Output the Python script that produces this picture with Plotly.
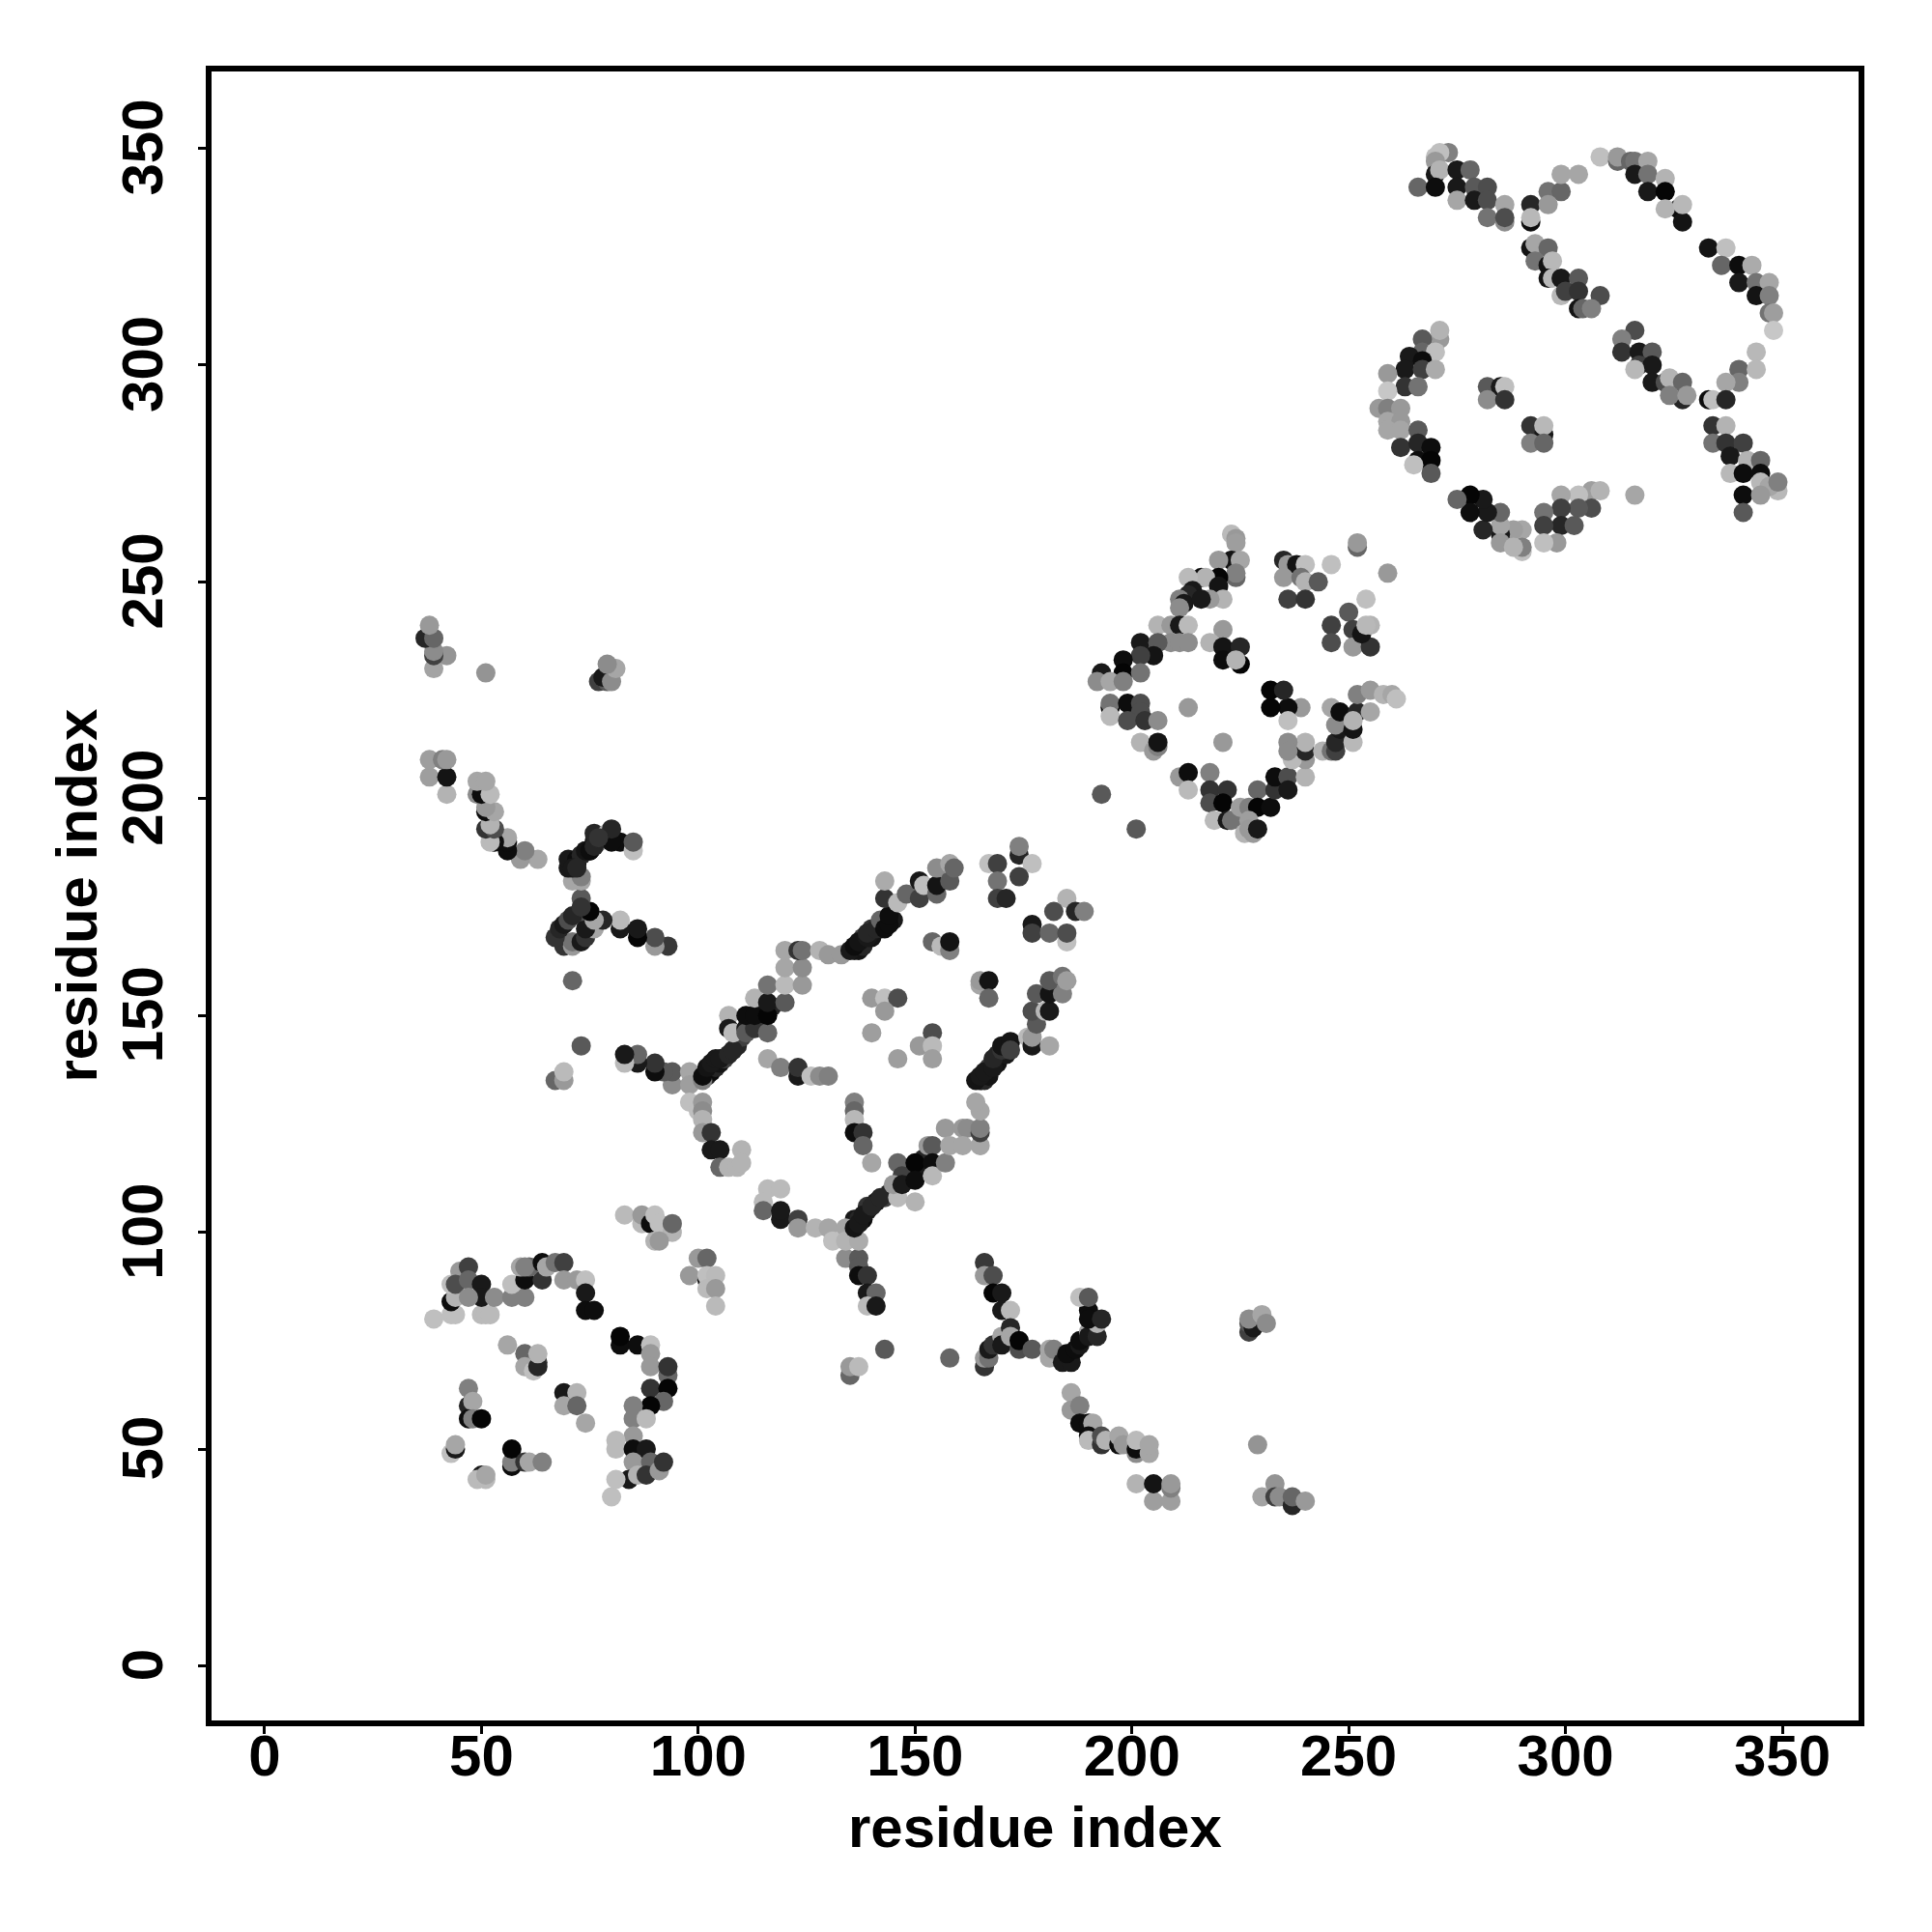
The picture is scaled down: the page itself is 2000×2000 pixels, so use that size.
import plotly.graph_objects as go

# each entry: residue i, residue j, contact score (0 = white ... 100 = black)
domain1_arc = [(39,80,25),(43,81,25),(44,81,25),(50,81,27),(51,81,27),(52,81,27),(43,84,95),(44,85,30),(45,91,40),(47,92,75),
(43,88,25),(44,88,70),(47,89,60),(50,88,90),(50,85,90),(47,85,45),(53,85,45),(57,85,50),(60,85,50),(57,88,25),(60,89,95),(64,89,80),
(59,92,35),(61,92,60),(60,92,50),(64,93,95),(65,92,35),(67,93,55),(69,93,75),(69,89,40),(72,89,40),(74,89,25),(74,86,90),(74,82,95),(76,82,95),
(56,74,35),(60,72,60),(63,70,75),(60,69,35),(62,68,25),(63,69,85),(63,72,30),(69,63,90),(72,63,30),(69,60,35),(72,60,60),(74,56,35),
(47,64,50),(47,60,85),(48,61,35),(47,57,95),(48,57,50),(50,57,98),(43,49,25),(44,50,90),(44,51,35),(57,46,95),(57,47,50),(57,50,98),(60,47,80),(61,47,35),(64,47,50),
(50,44,90),(49,43,27),(51,43,27),(51,44,35)]
domain1_right = [(82,74,95),(82,76,98),(86,74,95),(89,74,25),(89,72,40),(89,69,40),(93,67,60),(93,69,80),(89,64,80),(93,64,98),(92,61,60),(89,60,98),(85,60,50),(85,57,50),(88,57,27),
(85,53,40),(81,52,27),(81,50,27),(85,50,95),(88,50,90),(85,47,40),(89,47,60),(84,43,90),(81,43,25),(80,39,25),(86,44,30),(88,44,80),(91,45,40),(92,47,80)]
domain1_link = [(83,104,27),(87,102,27),(87,104,40),(89,102,95),(90,104,25),(91,102,25),(94,100,30),(94,102,60),(90,98,30),(91,98,40),
(98,90,40),(100,94,40),(102,94,60),(102,89,90),(102,90,25),(104,90,27),(102,87,27),(104,87,40),(104,83,27)]
# cross-domain contacts, read once and drawn on both sides of the diagonal
inter_contacts = [(143,73,65),(135,67,60),(135,69,40),(137,69,27),(158,71,60),(134,94,45),(137,94,65),(137,92,65),(137,90,95),(139,90,80),(139,86,90),(141,86,60),(139,83,27),(141,83,90),
(166,93,78),(166,90,40),(168,90,70),(168,86,98),(170,86,90),(170,82,90),(172,82,27),
(166,69,80),(166,71,40),(167,71,55),(167,73,90),(168,74,80),(170,76,35),(170,74,90),(172,78,85),(172,76,35),(174,73,70),(174,75,98),(177,73,65),
(181,71,35),(181,73,35),(182,73,50),(184,70,90),(186,70,90),(185,72,95),(187,73,95),(188,74,90),(188,75,95),(190,77,35),(190,76,90),(192,76,85),(192,79,30),(190,82,95),(190,80,95),(193,80,85),(188,85,25),(190,85,65),
(186,63,35),(186,59,40),(188,60,50),(188,56,95),(190,56,95),(191,56,35),(190,53,95),(190,52,27),(193,51,80),(193,53,70),(194,52,30),(197,51,95),(197,53,35),(198,51,40),(201,49,45),(201,50,95),(201,52,27),(204,49,35),(204,51,35),
(201,42,30),(205,38,38),(205,42,92),(209,38,38),(209,41,50),(209,42,40),
(227,77,75),(227,79,65),(228,78,90),(227,80,45),(230,81,35),(231,79,45),(229,51,42),
(230,39,36),(233,42,42),(233,39,75),(234,39,45),(237,37,85),(237,39,60),(240,38,40)]
domain2_top = [(174,187,85),(174,189,50),(177,185,25),(167,185,25),(169,185,75),(169,181,55),(174,182,75),(169,177,75),(171,177,85),
(185,177,30),(182,174,70),(187,174,85),(189,174,50),(177,171,90),(177,169,75),(181,169,60),(185,167,25),(185,169,70),
(154,167,60),(156,166,27),(158,165,50),(158,167,92),(165,157,35),(165,158,40),(167,158,92),(167,154,60),
(140,154,40),(143,154,25),(146,154,70),(143,151,40),(140,146,38),(154,146,70),(151,143,40),(154,143,27),(154,140,38),(146,140,38),
(116,140,35),(119,138,50),(123,136,90),(123,138,80),(126,136,25),(128,136,45),(130,136,50),
(136,130,50),(136,128,60),(136,126,28),(136,123,95),(138,123,80),(138,120,60),(140,116,35)]
chain_upper = [(98,137,35),(98,134,38),(98,130,25),(100,128,25),(101,135,50),(101,136,95),(102,138,92),(103,139,90),(104,140,90),(105,140,90),(107,141,85),(108,142,85),
(107,150,30),(107,147,90),(108,146,27),(111,147,90),(111,146,65),(113,147,80),(116,146,60),(111,150,95),(113,150,95),(116,150,98),(113,154,30),(116,153,90),(116,157,55),(120,153,65),(120,157,27),(124,157,40),
(120,161,35),(124,161,45),(120,165,35),(123,165,80),(124,165,55),(128,165,30),(130,164,40),(133,164,40),
(135,165,90),(136,166,95),(137,167,92),(139,168,90),(139,169,85),(141,170,85),(142,172,60),(143,170,95),(144,171,95),(144,173,95),
(143,177,80),(143,181,33),(146,176,27),(148,178,60),(151,177,75),(151,181,90),(152,180,25),(155,178,60),(155,180,92),(155,184,45),(158,181,65),(158,185,35),(159,184,60)]
chain_lower = [(116,110,27),(119,110,27),(115,107,27),(115,105,60),(119,103,90),(119,105,90),(123,103,75),(123,101,40),(127,101,30),(130,101,35),(134,101,35),(131,98,25),(134,98,30),(137,98,33),
(136,101,92),(137,102,90),(138,104,90),(140,106,85),(142,108,85),(146,108,27),(150,107,30),(146,116,60),(147,113,75),(145,111,40),(147,111,90),(150,116,98),(150,112,95),
(153,120,40),(154,120,65),(154,116,95),(154,113,28),(157,116,50),(157,124,40),(158,120,35),(161,124,40),(162,124,45),(161,120,35),(165,120,35),(165,123,75),(165,124,50),(165,128,35),(164,130,35),
(164,135,92),(165,136,90),(166,137,90),(168,138,90),(168,140,85),(170,142,80),(170,143,92),(172,144,92),(172,142,75),
(176,145,27),(177,143,90),(177,145,40),(181,143,35),(178,148,65),(177,151,70),(180,151,28),(181,151,90),(178,155,65),(181,155,92),(184,155,50),(181,158,65),(184,159,55),(185,158,38),
(101,130,40),(101,128,45),(101,126,30),(101,123,40),(103,123,80),(103,119,90),(105,119,90),(110,119,30),(105,115,60),(107,115,30),(109,115,30),(110,116,30)]
domain3 = [(223,261,27),(224,260,40),(224,259,38),(223,255,92),(225,255,35),(220,255,40),(224,251,60),(224,252,50),(220,251,98),(216,251,95),(217,251,30),(213,251,27),(220,249,92),(221,246,30),(218,246,40),
(214,248,90),(213,247,85),(211,246,50),(212,245,90),(216,246,90),(211,244,45),(206,240,30),(209,240,40),(211,240,90),(213,240,27),(209,236,45),(211,236,45),(213,236,45),
(202,236,90),(206,236,65),(205,233,92),(202,233,75),(198,232,95),(198,229,98),(202,229,55),(193,229,90),(192,227,45),(195,227,35),(198,227,50),
(195,221,95),(195,222,55),(195,219,27),(199,222,95),(202,222,70),(202,220,70),(199,218,70),(203,218,80),(206,218,45),(202,213,30),(205,211,40),(206,212,50),(206,213,92),(213,221,40),(221,213,40),
(211,205,40),(213,206,95),(213,202,27),(218,206,50),(218,202,80),(222,202,80),(218,199,70),(221,199,98),(219,195,27),(222,195,90),(223,195,55),(225,198,38),(227,198,50),(229,202,60),(229,198,98),(232,198,95),(233,202,80),(233,205,95),(236,205,70),(236,202,90),(227,195,38),(226,192,30),(228,192,40),(227,193,40),(229,193,90),
(240,205,30),(240,209,40),(237,209,27),(240,211,85),(240,213,30),(236,213,45),(236,211,45),(244,211,30),(246,211,55),(247,211,75),(247,213,85),(248,216,90),(247,217,45),(251,213,28),(246,221,35),(248,220,95),(252,220,85),(251,216,92),(251,218,30),(255,220,35),(252,224,50),(255,225,40),(258,224,30),(260,224,35),(261,223,25),
(239,221,40),(236,221,95),(236,218,25),(232,221,98),(232,225,98),(235,225,85),
(221,239,40),(218,236,30),(221,235,92),(225,235,85),(221,232,95),(225,231,98),(224,232,30),
(246,240,75),(246,236,70),(250,243,65),(251,239,75),(251,235,40),(255,235,80),(253,238,92),(255,240,30),(254,240,28),
(235,255,85),(236,254,40),(238,254,92),(240,254,25),(235,251,40),(239,251,55),(240,250,30),(243,250,65),(236,246,75),(240,246,80),
(246,254,25),(252,258,60),(252,259,40),(254,246,25),(259,252,40),(193,201,65),(201,193,65)]
domain4_outer = [(273,349,50),(270,348,25),(271,349,25),(270,347,40),(270,344,90),(271,345,30),(275,345,90),(278,345,60),(266,341,60),(270,341,95),(275,341,90),(279,341,65),(282,341,70),(275,338,35),(279,338,90),(282,338,70),(286,337,35),(282,334,55),(286,333,45),(286,334,70),
(292,337,85),(296,340,55),(299,340,60),(296,337,40),(299,344,35),(303,344,35),(292,333,95),(292,334,28),
(308,348,25),(312,347,60),(312,348,40),(315,347,60),(316,347,55),(319,347,35),(316,344,90),(319,344,55),(323,343,30),(319,340,90),(323,340,98),(326,336,95),(323,336,30),(327,333,92),(327,337,28),
(333,327,92),(337,327,25),(336,323,60),(340,323,95),(343,323,33),(340,319,90),(344,319,55),(347,319,35),(344,316,92),(347,316,50),(347,312,55),(348,312,38),(348,308,22),
(344,303,28),(340,299,60),(344,299,28),(340,296,50),(337,296,35),(333,292,95),(334,292,25),(337,292,85),
(334,286,80),(337,286,30),(334,282,55),(337,282,80),(341,282,75),(338,279,90),(342,278,30),(345,278,60),(338,275,28),(341,275,95),(345,275,95),(345,273,28),(349,271,28),(347,272,35),(349,273,50),
(341,270,95),(345,270,40),(341,266,65),(316,270,35)]
domain4_inner = [(306,271,38),(308,271,30),(303,270,25),(299,270,35),(306,267,70),(303,267,65),(299,267,75),(295,266,55),(299,263,85),(302,263,65),(295,263,75),(298,259,40),(295,259,25),(290,262,35),(288,262,38),(285,261,90),(285,263,35),(285,259,40),(290,257,25),(290,258,50),(288,258,30),
(285,266,60),(281,262,85),(282,266,90),(281,269,90),(278,270,98),(278,266,95),(275,269,60),
(271,306,40),(271,308,30),(267,306,65),(267,303,60),(270,303,25),(264,302,90),(267,301,95),(263,299,90),(267,299,75),(270,299,33),(259,298,40),(263,295,80),(266,295,55),(259,294,22),(257,290,40),(259,290,50),(262,290,40),(259,287,35),(262,287,40),(259,285,35),(262,285,35),(266,285,65),(262,281,80),(266,282,85),(269,281,95),(266,278,95),(269,278,98),(265,277,25),(269,275,65),
(282,295,65),(285,295,90),(286,295,25),(282,292,45),(286,292,80),(292,286,80),(295,284,90),(295,286,28),(292,282,50),(295,282,60),
(292,327,92),(293,328,35),(296,327,60),(293,324,55),(296,323,92),(297,324,28),(296,320,92),(297,320,28),(299,320,90),(303,320,65),(299,316,28),(300,317,75),(303,317,80),(308,316,70),(303,313,92),(304,313,60),(306,313,50),
(316,308,70),(313,306,50),(313,303,80),(317,303,90),(320,303,65),(317,300,75),(320,300,90),(316,299,28),(320,296,90),(323,296,70),(324,297,30),(327,296,60),(327,292,85),(324,293,50),(328,293,40)]

# extra contacts along the densest parts of the strands
chain_dense = [(136,103,90),(137,103,85),(138,103,95),(139,105,90),(139,106,80),(141,107,90),(143,108,75),(144,109,85),(148,112,85),(149,114,75),(151,115,90),(152,117,85),
(165,135,95),(166,135,85),(167,136,92),(167,138,75),(169,139,92),(169,141,85),(171,141,90),(171,143,85),
(102,136,85),(103,137,95),(104,138,85),(105,139,92),(106,140,75),(109,143,85),(110,145,75),(112,148,92),(114,149,85),(114,152,75),(117,152,85),
(136,165,85),(137,165,92),(138,166,85),(138,168,75),(140,168,92),(140,170,80),(142,170,90),(142,171,85),(143,172,92),(145,172,90),
(72,186,95),(73,187,85),(74,188,92),(75,188,95),(76,189,85),(77,191,80),(71,184,90),(72,184,85),
(67,168,80),(68,170,85),(69,171,90),(70,172,70),(71,173,85),(73,175,80)]

tick_values = [0, 50, 100, 150, 200, 250, 300, 350]
axis_label = "residue index"

contacts = (domain1_arc + domain1_right + domain1_link + inter_contacts
            + [(b, a, s) for a, b, s in inter_contacts]
            + domain2_top + chain_dense + chain_upper + chain_lower + domain3 + domain4_outer + domain4_inner)
x = [c[0] for c in contacts]
y = [c[1] for c in contacts]
score = [c[2] for c in contacts]

fig = go.Figure(go.Scatter(
    x=x, y=y, mode="markers",
    marker=dict(size=20, color=score, cmin=0, cmax=100,
                colorscale=[[0, "rgb(255,255,255)"], [1, "rgb(0,0,0)"]],
                showscale=False, line=dict(width=0)),
))
font_main = dict(family="Liberation Sans", size=60, color="black", weight="bold")
axis_common = dict(tickmode="array", tickvals=tick_values, ticks="outside", ticklen=8, tickwidth=3,
                   tickcolor="black", showline=True, linewidth=5.5, linecolor="black", mirror=True,
                   showgrid=False, zeroline=False, tickfont=font_main, automargin=False)
fig.update_xaxes(range=[-12.25, 367.6], ticklabelstandoff=-29, **axis_common)
fig.update_yaxes(range=[-12.58, 367.7], tickangle=-90, ticklabelstandoff=13, ticklabelshift=8, **axis_common)
fig.add_annotation(text=axis_label, xref="paper", yref="paper", x=0.5, y=0, xanchor="center", yanchor="middle",
                   yshift=-110.5, showarrow=False, font=font_main)
fig.add_annotation(text=axis_label, xref="paper", yref="paper", x=0, y=0.5, xanchor="center", yanchor="middle",
                   xshift=-140, textangle=-90, showarrow=False, font=font_main)
fig.update_layout(width=2000, height=2000, margin=dict(l=219, r=75.5, t=74, b=218.5, pad=0),
                  paper_bgcolor="white", plot_bgcolor="white", showlegend=False)
fig.write_html("out.html", config=dict(displayModeBar=False), post_script="document.body.style.margin='0';")
